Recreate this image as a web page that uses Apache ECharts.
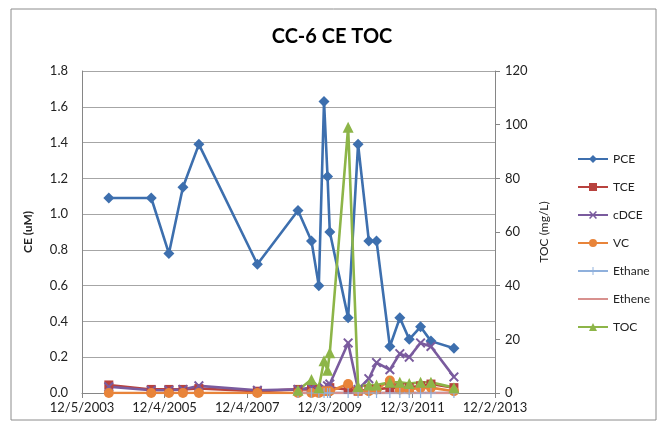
<!DOCTYPE html>
<html>
<head>
<meta charset="utf-8">
<script src="https://cdn.jsdelivr.net/npm/echarts@6/dist/echarts.min.js"></script>
<style>
  html, body { margin: 0; padding: 0; background: #fff; }
  #chart { width: 664px; height: 423px; }
</style>
</head>
<body>
<div id="chart"></div>
<script>
// sampling dates
var sampleDates = ['2004-07-29', '2005-08-08', '2006-01-11', '2006-05-15', '2006-10-03', '2008-03-03',
  '2009-02-25', '2009-06-24', '2009-08-28', '2009-10-13', '2009-11-13', '2009-12-03',
  '2010-05-14', '2010-08-10', '2010-11-13', '2011-01-20', '2011-05-18', '2011-08-14',
  '2011-11-05', '2012-02-13', '2012-05-15', '2012-12-04'];

// CE values (uM)
var pce = [1.09, 1.09, 0.78, 1.15, 1.39, 0.72, 1.02, 0.85, 0.60, 1.63, 1.21, 0.90, 0.42, 1.39, 0.85, 0.85, 0.26, 0.42, 0.30, 0.37, 0.29, 0.25];
var tce = [0.045, 0.02, 0.02, 0.02, 0.025, 0.01, 0.02, 0.02, 0.02, 0.01, 0.01, 0.03, 0.02, 0.01, 0.02, 0.02, 0.03, 0.03, 0.03, 0.04, 0.05, 0.03];
var cdce = [0.035, 0.015, 0.015, 0.02, 0.04, 0.015, 0.02, 0.03, 0.01, 0.03, 0.04, 0.05, 0.28, 0.02, 0.08, 0.17, 0.13, 0.22, 0.20, 0.28, 0.26, 0.09];
var vc = [0, 0, 0, 0, 0, 0, 0, 0, 0, 0.01, 0.01, 0.01, 0.05, 0.01, 0.01, 0.02, 0.07, 0.02, 0.02, 0.03, 0.03, 0.01];
var ethane = [null, null, null, null, null, null, 0, 0, 0, 0, 0, 0, 0, 0, 0, 0, 0, 0, 0, 0, 0, 0];
var ethene = [null, null, null, null, null, null, 0, 0, 0, 0, 0, 0, 0, 0, 0, 0, 0, 0, 0, 0, 0, 0];
// TOC (mg/L), right axis
var toc = [null, null, null, null, null, null, 1, 5, 2, 12, 8.5, 15, 99, 2.4, 3, 3, 4, 4, 3.5, 4, 4, 2];

// axis ticks (Excel serial days)
var xMin = 37960;   // 12/5/2003
var xMax = 41610;   // 12/2/2013
var xStep = 730;

function toSerial(s) {
  var p = s.split('-');
  return Date.UTC(+p[0], +p[1] - 1, +p[2]) / 86400000 + 25569;
}
function serialLabel(v) {
  var d = new Date((v - 25569) * 86400000);
  return (d.getUTCMonth() + 1) + '/' + d.getUTCDate() + '/' + d.getUTCFullYear();
}
function pairs(vals) {
  return sampleDates.map(function (s, i) { return [toSerial(s), vals[i]]; });
}

var xMark = 'path://M0,1.4L1.4,0L5,3.6L8.6,0L10,1.4L6.4,5L10,8.6L8.6,10L5,6.4L1.4,10L0,8.6L3.6,5Z';
var plusMark = 'path://M4.4,0H5.6V4.4H10V5.6H5.6V10H4.4V5.6H0V4.4H4.4Z';

var font = 'Lato, "Liberation Sans", sans-serif';

function mk(name, vals, color, symbol, size, yIdx) {
  return {
    name: name,
    type: 'line',
    yAxisIndex: yIdx || 0,
    data: pairs(vals),
    connectNulls: false,
    symbol: symbol,
    symbolSize: size,
    lineStyle: { color: color, width: 2.6 },
    itemStyle: { color: color },
    animation: false
  };
}

var etheneSeries = mk('Ethene', ethene, '#d8918e', 'circle', 0);
etheneSeries.showSymbol = false;
etheneSeries.itemStyle = { color: '#d8918e', opacity: 0 };

var chart = echarts.init(document.getElementById('chart'));
chart.setOption({
  backgroundColor: '#fff',
  animation: false,
  graphic: [{
    type: 'rect',
    shape: { x: 11, y: 9, width: 645, height: 411 },
    style: { fill: 'none', stroke: '#8c8c8c', lineWidth: 1 }
  }],
  title: {
    text: 'CC-6 CE TOC',
    left: 'center',
    top: 22,
    textStyle: { fontFamily: font, fontSize: 20, fontWeight: 'bold', color: '#000' }
  },
  legend: {
    orient: 'vertical',
    left: 572,
    top: 148,
    itemWidth: 30,
    itemHeight: 10,
    itemGap: 16,
    textStyle: { fontFamily: font, fontSize: 12, color: '#222' },
    data: ['PCE', 'TCE', 'cDCE', 'VC', 'Ethane', 'Ethene', 'TOC']
  },
  grid: { left: 82, right: 169, top: 71, bottom: 30 },
  xAxis: {
    type: 'value',
    min: xMin,
    max: xMax,
    interval: xStep,
    axisLine: { show: true, lineStyle: { color: '#868686' } },
    axisTick: { show: true, length: 5, lineStyle: { color: '#868686' } },
    splitLine: { show: false },
    axisLabel: {
      formatter: serialLabel,
      fontFamily: font, fontSize: 13, color: '#222', margin: 8
    }
  },
  yAxis: [{
    type: 'value',
    min: 0, max: 1.8, interval: 0.2,
    name: 'CE (uM)',
    nameLocation: 'middle',
    nameGap: 48,
    nameTextStyle: { fontFamily: font, fontSize: 12, fontWeight: 'bold', color: '#222' },
    axisLine: { show: true, lineStyle: { color: '#868686' } },
    axisTick: { show: false },
    splitLine: { lineStyle: { color: '#a6a6a6' } },
    axisLabel: {
      formatter: function (v) { return v.toFixed(1); },
      fontFamily: font, fontSize: 13, color: '#222', margin: 14
    }
  }, {
    type: 'value',
    min: 0, max: 120, interval: 20,
    name: 'TOC (mg/L)',
    nameLocation: 'middle',
    nameGap: 38,
    nameRotate: 90,
    nameTextStyle: { fontFamily: font, fontSize: 12, color: '#222' },
    axisLine: { show: true, lineStyle: { color: '#868686' } },
    axisTick: { show: true, length: 5, inside: false, lineStyle: { color: '#868686' } },
    splitLine: { show: false },
    axisLabel: { fontFamily: font, fontSize: 13, color: '#222', margin: 10 }
  }],
  series: [
    mk('PCE', pce, '#3d6fae', 'diamond', 11),
    mk('TCE', tce, '#b8423e', 'rect', 9),
    mk('cDCE', cdce, '#7a5b9e', xMark, 10),
    mk('VC', vc, '#e8843a', 'circle', 10),
    mk('Ethane', ethane, '#8fb0dc', plusMark, 10),
    etheneSeries,
    mk('TOC', toc, '#8db548', 'triangle', 11, 1)
  ]
});
</script>
</body>
</html>
